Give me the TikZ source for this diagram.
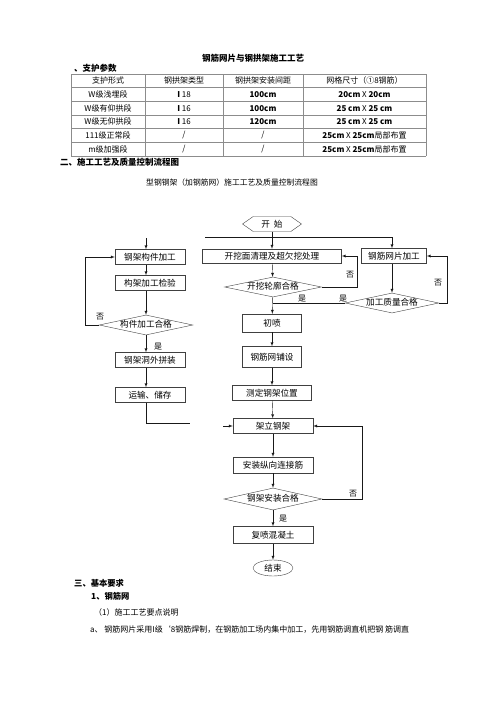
\documentclass[tikz,border=0pt]{standalone}
\usepackage{fontspec}
\setmainfont{Noto Sans CJK SC}
\usetikzlibrary{shapes.geometric,shapes.symbols,arrows}

\tikzset{
  txt/.style={font=\fontsize{8}{9}\selectfont,inner sep=0pt},
  box/.style={draw=black!75,rectangle,inner sep=0pt,font=\fontsize{8.6}{9}\selectfont},
  chk/.style={draw=black!75,diamond,aspect=6,inner sep=0pt,text height=6pt,text depth=1pt,font=\fontsize{8.6}{9}\selectfont},
  arr/.style={-latex,black!90},
  ln/.style={black!90},
  grid/.style={black!45,line width=0.5pt},
}

\begin{document}
\begin{tikzpicture}[x=1pt,y=-1pt]
    \useasboundingbox (0,0) rectangle (500,707);
    %% Headings
    \node[txt,font=\fontsize{8.5}{9}\selectfont\bfseries] (title) at (253,58) {钢筋网片与钢拱架施工工艺};
    \node[txt,anchor=west,font=\fontsize{8.5}{9}\selectfont\bfseries] (sec1) at (74,68) {、支护参数};
    %% Table
    \foreach \y in {74,87.67,101.33,115,128.67,142.33,156}
        \draw[grid] (71,\y) -- (426,\y);
    \foreach \x in {71,145,223,303,426}
        \draw[grid] (\x,74) -- (\x,156);
    \foreach \c/\x in {0/108,1/184,2/263,3/364.5}
        \coordinate (col\c) at (\x,0);
    \foreach \r [count=\i from 0] in {80.8,94.5,108.2,121.8,135.5,149.2}
        \coordinate (row\i) at (0,\r);
    \node[txt] at (col0 |- row0) {支护形式};
    \node[txt] at (col1 |- row0) {钢拱架类型};
    \node[txt] at (col2 |- row0) {钢拱架安装间距};
    \node[txt] at (col3 |- row0) {网格尺寸（①8钢筋）};
    \node[txt] at (col0 |- row1) {W级浅埋段};
    \node[txt] at (col1 |- row1) {\textbf{I} 18};
    \node[txt] at (col2 |- row1) {\textbf{100cm}};
    \node[txt] at (col3 |- row1) {\textbf{20cm} X \textbf{20cm}};
    \node[txt] at (col0 |- row2) {W级有仰拱段};
    \node[txt] at (col1 |- row2) {\textbf{I} 16};
    \node[txt] at (col2 |- row2) {\textbf{100cm}};
    \node[txt] at (col3 |- row2) {\textbf{25 cm} X \textbf{25 cm}};
    \node[txt] at (col0 |- row3) {W级无仰拱段};
    \node[txt] at (col1 |- row3) {\textbf{I} 16};
    \node[txt] at (col2 |- row3) {\textbf{120cm}};
    \node[txt] at (col3 |- row3) {\textbf{25 cm} X \textbf{25 cm}};
    \node[txt] at (col0 |- row4) {111级正常段};
    \node[txt] at (col1 |- row4) {/};
    \node[txt] at (col2 |- row4) {/};
    \node[txt] at (col3 |- row4) {\textbf{25cm} X \textbf{25cm}局部布置};
    \node[txt] at (col0 |- row5) {m级加强段};
    \node[txt] at (col1 |- row5) {/};
    \node[txt] at (col2 |- row5) {/};
    \node[txt] at (col3 |- row5) {\textbf{25cm} X \textbf{25cm}局部布置};
    \node[txt,anchor=west,font=\fontsize{8.5}{9}\selectfont\bfseries] (sec2) at (60,162) {二、施工工艺及质量控制流程图};
    \node[txt,font=\fontsize{7.8}{9}\selectfont] (ftitle) at (232,183) {型钢钢架（加钢筋网）施工工艺及质量控制流程图};
    %% Flow chart: middle column
    \node[draw=black!75,signal,signal to=east and west,signal pointer angle=70,minimum width=59pt,minimum height=15pt,inner sep=0pt,font=\fontsize{8.6}{9}\selectfont] (start) at (272,224) {开\ \ 始};
    \node[box,minimum width=139pt,minimum height=14pt] (clean) at (272,256) {开挖面清理及超欠挖处理};
    \node[chk,minimum width=97pt,minimum height=20pt] (chkA) at (273,287) {开挖轮廓合格};
    \node[box,minimum width=59pt,minimum height=18pt] (spray) at (272,323) {初喷};
    \node[box,minimum width=59pt,minimum height=21pt] (lay) at (272,357) {钢筋网铺设};
    \node[box,minimum width=79pt,minimum height=15pt] (measure) at (272,393) {测定钢架位置};
    \node[box,minimum width=80pt,minimum height=15pt] (erect) at (273,426) {架立钢架};
    \node[box,minimum width=80pt,minimum height=16pt] (link) at (273,465) {安装纵向连接筋};
    \node[chk,minimum width=98pt,minimum height=22pt] (chkC) at (273,499) {钢架安装合格};
    \node[box,minimum width=80pt,minimum height=17pt] (reshot) at (273,535) {复喷混凝土};
    \node[draw=black!75,ellipse,minimum width=40pt,minimum height=16pt,inner sep=0pt,font=\fontsize{8.6}{9}\selectfont] (finish) at (273,568) {结束};
    %% Flow chart: right column
    \node[box,minimum width=65pt,minimum height=15pt] (net) at (394,256) {钢筋网片加工};
    \node[chk,minimum width=77pt,minimum height=20pt] (chkB) at (392,303) {加工质量合格};
    %% Flow chart: left column
    \node[box,minimum width=70pt,minimum height=15pt] (part) at (150,257) {钢架构件加工};
    \node[box,minimum width=70pt,minimum height=15pt] (inspect) at (150,283) {构架加工检验};
    \node[chk,minimum width=86pt,minimum height=20pt] (chkP) at (146,325) {构件加工合格};
    \node[box,minimum width=70pt,minimum height=15pt] (assemble) at (150,360) {钢架洞外拼装};
    \node[box,minimum width=70pt,minimum height=15pt] (store) at (150,395) {运输、储存};
    %% Connectors, top
    \coordinate (busL) at (205,237);
    \coordinate (busR) at (392,237);
    \coordinate (stub) at (146,238);
    \draw[ln] (start.south) -- (start |- busL);
    \draw[ln] (busL) -- (busR);
    \draw[arr] (busR) -- (busR |- net.north);
    \draw[arr] (clean |- busL) -- (clean.north);
    \draw[arr] (stub) -- (stub |- part.north);
    %% Connectors, middle
    \draw[arr] (clean) -- (chkA);
    \draw[arr] (chkA) -- (spray);
    \draw[arr] (chkA.east) -- (357,287) |- (clean.east);
    \node[txt] at (350,275) {否};
    \node[txt] at (302,299) {是};
    \draw[arr] (spray) -- (lay);
    \draw[arr] (lay) -- (measure);
    \draw[arr] (measure) -- (erect);
    \draw[arr] (erect) -- (link);
    \draw[arr] (link) -- (chkC);
    \draw[arr] (chkC) -- (reshot);
    \draw[arr] (reshot) -- (finish);
    \draw[arr] (chkC.east) -- (362,499) |- (erect.east);
    \node[txt] at (353,494) {否};
    \node[txt] at (283,519) {是};
    %% Connectors, right
    \draw[arr] (busR |- net.south) -- (busR |- chkB.north);
    \draw[arr] (chkB.east) -- (447,303) |- (net.east);
    \node[txt] at (438,283) {否};
    \draw[ln] (chkB.west) -- (chkB.west -| chkA);
    \node[txt] at (343,299) {是};
    %% Connectors, left
    \draw[arr] (stub |- part.south) -- (stub |- inspect.north);
    \draw[arr] (stub |- inspect.south) -- (chkP);
    \draw[arr] (chkP) -- (stub |- assemble.north);
    \draw[arr] (chkP.west) -- (85,325) |- (part.west);
    \node[txt] at (100,317) {否};
    \node[txt] at (158,347) {是};
    \draw[arr] (stub |- assemble.south) -- (stub |- store.north);
    \coordinate (lowL) at (190,423);
    \coordinate (lowR) at (223,426);
    \draw[ln] (stub |- store.south) |- (lowL);
    \draw[arr] (lowR) -- (erect.west);
    %% Notes below
    \node[txt,anchor=west,font=\fontsize{8.3}{9}\selectfont\bfseries] (sec3) at (74,583) {三、基本要求};
    \node[txt,anchor=west,font=\fontsize{8.3}{9}\selectfont\bfseries] (sub1) at (91,596) {1、钢筋网};
    \node[txt,anchor=west] (item1) at (94,612) {（1）施工工艺要点说明};
    \node[txt,anchor=west] (para) at (90,630) {a、 钢筋网片采用I级`8钢筋焊制，在钢筋加工场内集中加工，先用钢筋调直机把钢 筋调直};
\end{tikzpicture}
\end{document}
